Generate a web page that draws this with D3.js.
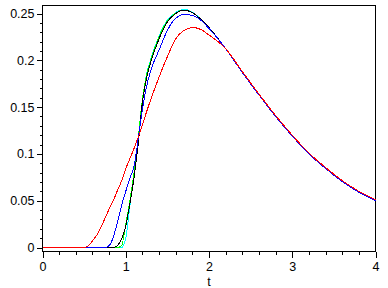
<!DOCTYPE html>
<html>
<head>
<meta charset="utf-8">
<script src="https://cdn.jsdelivr.net/npm/d3@7"></script>
<style>
  body { margin: 0; background: #fff; }
  svg { display: block; }
  text { font-family: "Liberation Sans", Arial, sans-serif; font-size: 12.5px; fill: #000; }
</style>
</head>
<body>
<script>

// sample times (t) shared by every curve
const tValues = [0, 0.5, 0.55, 0.6, 0.65, 0.7, 0.75, 0.8, 0.85, 0.9, 0.95, 1.0, 1.05, 1.1, 1.15,
                 1.2, 1.25, 1.3, 1.4, 1.5, 1.6, 1.7, 1.8, 1.9, 2.0, 2.2, 2.4, 2.6, 2.8, 3.0,
                 3.2, 3.4, 3.6, 3.8, 4.0];

const redValues = [0, 0, 0.002, 0.007, 0.013, 0.021, 0.031, 0.041, 0.050, 0.061, 0.071, 0.084, 0.095, 0.106, 0.118,
                   0.131, 0.145, 0.158, 0.182, 0.204, 0.223, 0.232, 0.235, 0.233, 0.227, 0.2125, 0.188, 0.164, 0.141, 0.120,
                   0.101, 0.0855, 0.0715, 0.060, 0.051];

const blueValues = [0, 0, 0, 0, 0, 0, 0, 0.002, 0.011, 0.027, 0.045, 0.060, 0.074, 0.087, 0.116,
                    0.147, 0.172, 0.189, 0.211, 0.232, 0.245, 0.249, 0.248, 0.243, 0.234, 0.2125, 0.187, 0.163, 0.140, 0.119,
                    0.100, 0.0845, 0.0705, 0.059, 0.050];

const blackValues = [0, 0, 0, 0, 0, 0, 0, 0, 0, 0.002, 0.009, 0.023, 0.047, 0.075, 0.111,
                     0.155, 0.181, 0.198, 0.223, 0.241, 0.250, 0.2535, 0.251, 0.244, 0.235, 0.2125, 0.187, 0.163, 0.140, 0.119,
                     0.100, 0.0845, 0.0705, 0.059, 0.050];

const greenValues = [0, 0, 0, 0, 0, 0, 0, 0, 0, 0, 0.002, 0.025, 0.050, 0.080, 0.117,
                     0.158, 0.184, 0.200, 0.225, 0.242, 0.2505, 0.2538, 0.251, 0.244, 0.235, 0.2125, 0.187, 0.163, 0.140, 0.119,
                     0.100, 0.0845, 0.0705, 0.059, 0.050];

const cyanValues = [0, 0, 0, 0, 0, 0, 0, 0, 0, 0, 0, 0.010, 0.045, 0.080, 0.117,
                    0.158, 0.185, 0.201, 0.226, 0.243, 0.251, 0.2545, 0.2515, 0.244, 0.235, 0.2125, 0.187, 0.163, 0.140, 0.119,
                    0.100, 0.0845, 0.0705, 0.059, 0.050];

const xTicks = [0, 1, 2, 3, 4];
const yTicks = [0, 0.05, 0.1, 0.15, 0.2, 0.25];
const xLabel = 't';

const series = [
    { name: 'cyan',  color: '#00ffff', values: cyanValues },
    { name: 'green', color: '#00ff00', values: greenValues },
    { name: 'black', color: '#000000', values: blackValues },
    { name: 'blue',  color: '#0000ff', values: blueValues },
    { name: 'red',   color: '#ff0000', values: redValues }
];

const width = 388;
const height = 288;
const plotLeft = 42.5, plotRight = 375.5, plotTop = 5.5, plotBottom = 251.5;

const xScale = d3.scaleLinear()
                .domain([0, 4])
                .range([plotLeft, plotRight]);

const yScale = d3.scaleLinear()
                .domain([0, 0.25])
                .range([247.5, 13.5]);

const svg = d3.select('body')
                .append('svg')
                .attr('width', width)
                .attr('height', height);

// minor ticks
svg.append('g')
    .attr('transform', 'translate(0,' + plotBottom + ')')
    .call(d3.axisBottom(xScale).tickValues(d3.range(0, 4.001, 0.2)).tickSize(3).tickSizeOuter(0).tickFormat(''))
    .call(g => g.select('.domain').remove());

svg.append('g')
    .attr('transform', 'translate(' + plotLeft + ',0)')
    .call(d3.axisLeft(yScale).tickValues(d3.range(0, 0.2501, 0.01)).tickSize(3).tickSizeOuter(0).tickFormat(''))
    .call(g => g.select('.domain').remove());

// major ticks with labels
svg.append('g')
    .attr('transform', 'translate(0,' + plotBottom + ')')
    .call(d3.axisBottom(xScale).tickValues(xTicks).tickSize(6).tickSizeOuter(0).tickPadding(5).tickFormat(d3.format('d')))
    .call(g => g.select('.domain').remove());

svg.append('g')
    .attr('transform', 'translate(' + plotLeft + ',0)')
    .call(d3.axisLeft(yScale).tickValues(yTicks).tickSize(6).tickSizeOuter(0).tickPadding(2).tickFormat(d => d === 0 ? '0' : String(+d.toFixed(2))))
    .call(g => g.select('.domain').remove());

svg.selectAll('.tick text')
    .style('font-family', '"Liberation Sans", Arial, sans-serif')
    .style('font-size', '12.5px');
svg.selectAll('.tick line')
    .attr('shape-rendering', 'crispEdges');

// frame
svg.append('rect')
    .attr('x', plotLeft)
    .attr('y', plotTop)
    .attr('width', plotRight - plotLeft)
    .attr('height', plotBottom - plotTop)
    .attr('fill', 'none')
    .attr('stroke', '#000')
    .attr('shape-rendering', 'crispEdges');

const line = d3.line()
                .x((d, i) => xScale(tValues[i]))
                .y(d => yScale(d))
                .curve(d3.curveMonotoneX);

svg.selectAll('path.curve')
    .data(series)
    .enter()
    .append('path')
    .attr('class', 'curve')
    .attr('d', d => line(d.values))
    .attr('fill', 'none')
    .attr('stroke', d => d.color)
    .attr('stroke-width', 1)
    .attr('shape-rendering', 'crispEdges');

svg.append('text')
    .attr('x', xScale(2))
    .attr('y', 285.5)
    .attr('text-anchor', 'middle')
    .text(xLabel);

</script>
</body>
</html>
